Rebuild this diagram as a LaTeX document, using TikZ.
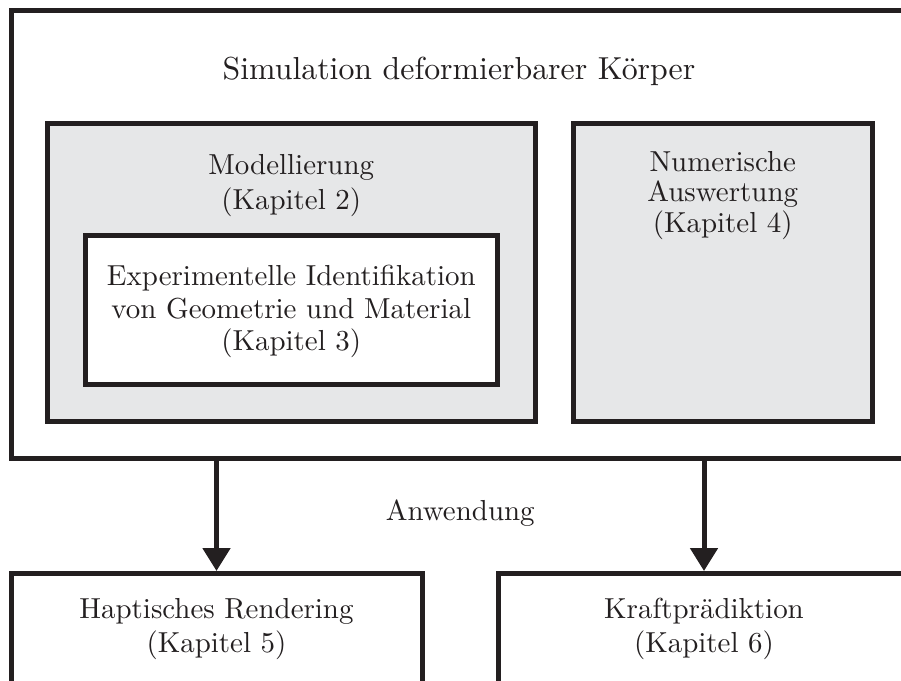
\documentclass[tikz,border=0pt]{standalone}
\usetikzlibrary{arrows.meta}
\definecolor{linec}{HTML}{231F20}
\definecolor{fillg}{HTML}{E6E7E8}
\begin{document}
\begin{tikzpicture}[x=0.33pt,y=-0.33pt,
  box/.style={draw=linec, line width=1.65pt, inner sep=0pt},
  graybox/.style={box, fill=fillg},
  whitebox/.style={box, fill=white},
  lbl/.style={text=linec, anchor=base, align=center, inner sep=0pt, font=\fontsize{9.55}{#1}\selectfont},
  lbl/.default=11pt,
  arr/.style={draw=linec, line width=1.65pt, -{Triangle[width=8.91pt,length=7.59pt]}}]
\useasboundingbox (0,0) rectangle (901,681);
\clip (0,0) rectangle (901,681);
\node[whitebox, minimum width=295.68pt, minimum height=147.84pt] (outer) at (459,235) {};
\node[graybox, minimum width=160.875pt, minimum height=98.175pt] (modell) at (291.25,272.75) {};
\node[graybox, minimum width=98.835pt, minimum height=98.175pt] (numer) at (722.75,272.75) {};
\node[whitebox, minimum width=136.125pt, minimum height=49.17pt] (exp) at (291.25,310.5) {};
\node[whitebox, minimum width=135.63pt, minimum height=61.545pt] (hap) at (216.5,666.75) {};
\node[whitebox, minimum width=135.63pt, minimum height=61.545pt] (kraft) at (704,666.75) {};
\node[lbl, font=\fontsize{10.5}{12}\selectfont] (tsim) at (459,79.3) {Simulation deformierbarer Körper};
\node[lbl=11.5pt] (tmod) at (291.25,209.3) {Modellierung\\(Kapitel 2)};
\node[lbl=10.1pt] (tnum) at (722.75,232.3) {Numerische\\Auswertung\\(Kapitel 4)};
\node[lbl=10.7pt] (texp) at (291.25,350.7) {Experimentelle Identifikation\\von Geometrie und Material\\(Kapitel 3)};
\node[lbl] (tanw) at (460.25,520) {Anwendung};
\node[lbl=11.4pt] (thap) at (216.5,652.7) {Haptisches Rendering\\(Kapitel 5)};
\node[lbl=11.4pt] (tkraft) at (704,652.7) {Kraftprädiktion\\(Kapitel 6)};
\draw[arr] (outer.south -| hap.north) -- (hap.north);
\draw[arr] (outer.south -| kraft.north) -- (kraft.north);
\end{tikzpicture}
\end{document}
